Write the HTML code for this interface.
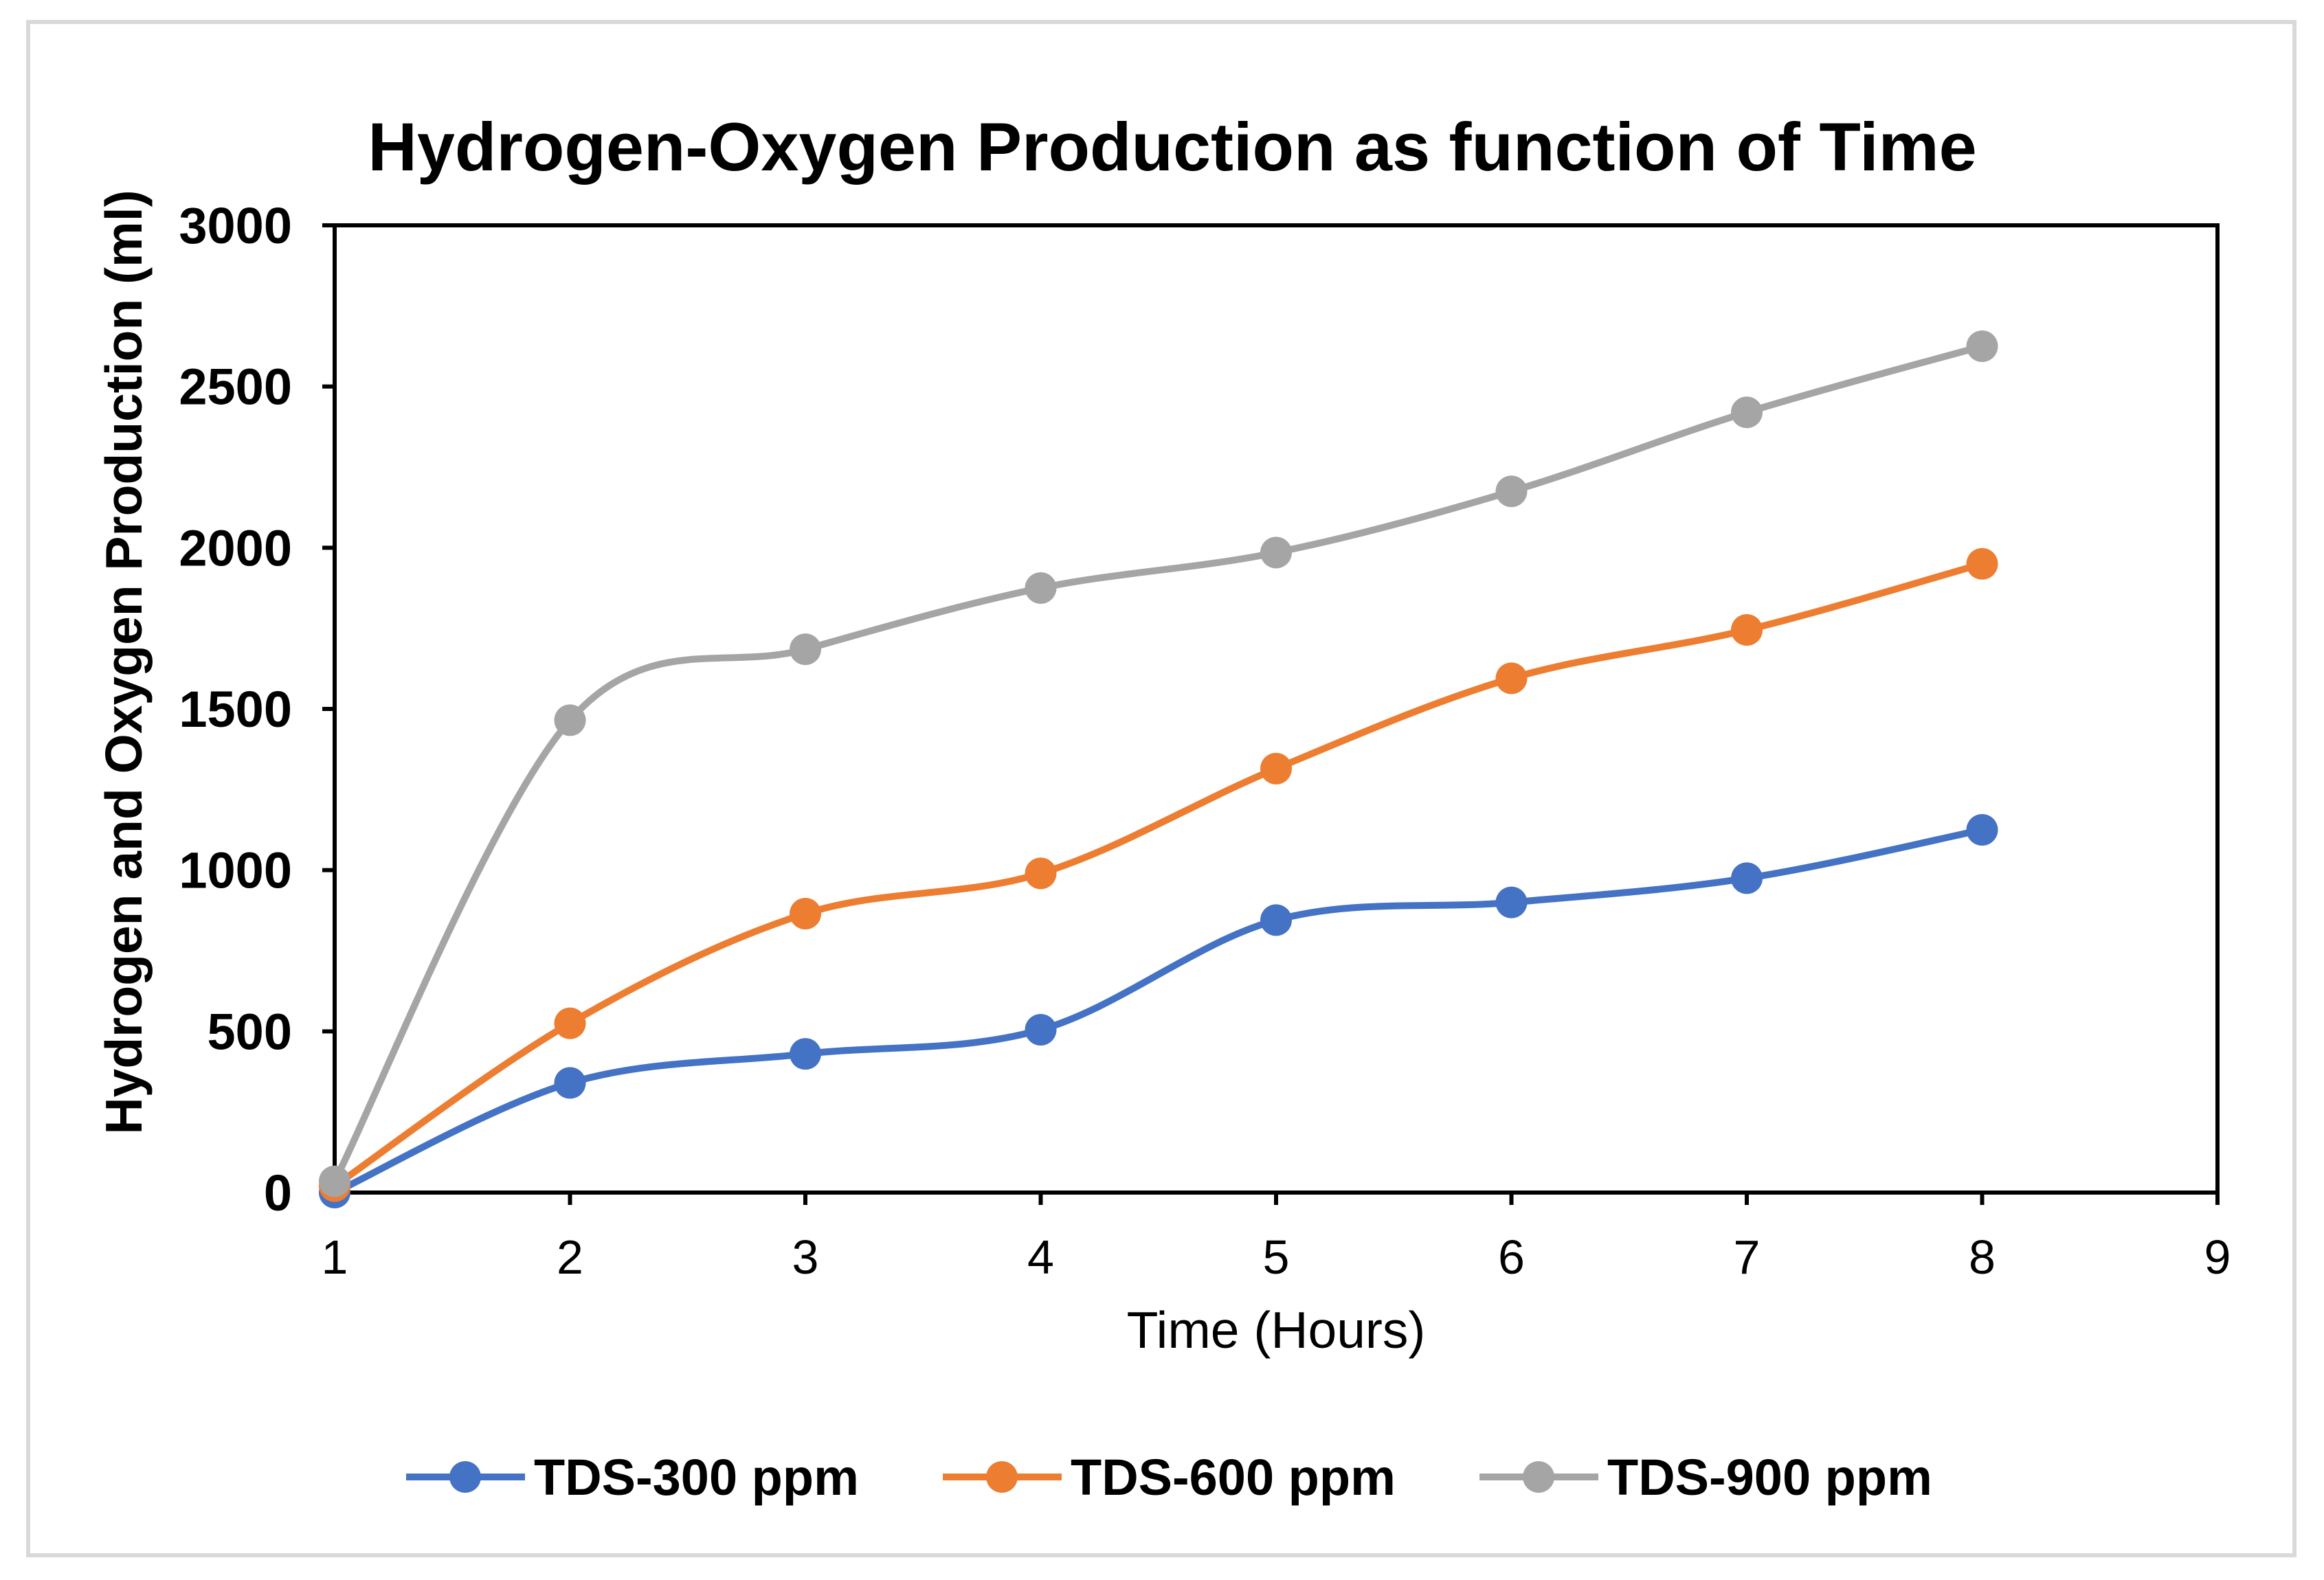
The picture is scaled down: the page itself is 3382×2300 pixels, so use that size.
<!DOCTYPE html>
<html><head><meta charset="utf-8"><style>html,body{margin:0;padding:0;background:#fff}svg{display:block}</style></head>
<body>
<svg id="chart" width="3382" height="2300" viewBox="0 0 3382 2300" xmlns="http://www.w3.org/2000/svg" font-family="'Liberation Sans', Arial, sans-serif">
<rect x="41" y="32" width="3298" height="2232" fill="#fff" stroke="#d9d9d9" stroke-width="6"/>
<text x="1706" y="248" text-anchor="middle" font-size="99" font-weight="bold">Hydrogen-Oxygen Production as function of Time</text>
<g id="axes"></g>
<g id="series"></g>
<text x="1857" y="1962" text-anchor="middle" font-size="75">Time (Hours)</text>
<text transform="translate(206,964) rotate(-90)" text-anchor="middle" font-size="75" font-weight="bold">Hydrogen and Oxygen Production (ml)</text>
<g id="legend"></g>
</svg>
<script>
const hours = [1,2,3,4,5,6,7,8];
const tds300 = [0,340,430,505,845,900,975,1125];
const tds600 = [20,525,865,990,1315,1595,1745,1950];
const tds900 = [35,1465,1685,1875,1985,2175,2420,2625];
const seriesNames = ['TDS-300 ppm','TDS-600 ppm','TDS-900 ppm'];
const seriesColors = ['#4472c4','#ed7d31','#a5a5a5'];
const xTicks = [1,2,3,4,5,6,7,8,9];
const yTicks = [0,500,1000,1500,2000,2500,3000];

const NS='http://www.w3.org/2000/svg';
const L=487,R=3227,T=328,B=1736;
const xs=v=>L+(v-1)/(9-1)*(R-L);
const ys=v=>B-v/3000*(B-T);
function mk(tag,attrs,parent){const e=document.createElementNS(NS,tag);for(const k in attrs)e.setAttribute(k,attrs[k]);parent.appendChild(e);return e;}
const axes=document.getElementById('axes');
const box=mk('rect',{x:L,y:T,width:R-L,height:B-T,fill:'none',stroke:'#000','stroke-width':6},axes);


yTicks.forEach(v=>{
  const t=mk('line',{x1:L-18,x2:L,y1:ys(v),y2:ys(v),stroke:'#000','stroke-width':6},axes);
  
  
  const tx=mk('text',{x:L-62,y:ys(v)+26,'text-anchor':'end','font-size':74,'font-weight':'bold'},axes);
  tx.textContent=v;
  
  
});
xTicks.forEach(v=>{
  const t=mk('line',{x1:xs(v),x2:xs(v),y1:B,y2:B+18,stroke:'#000','stroke-width':6},axes);
  
  
  const tx=mk('text',{x:xs(v),y:B+118,'text-anchor':'middle','font-size':70},axes);
  tx.textContent=v;
  
  
});
function smooth(p){
  let d='M'+p[0][0]+','+p[0][1];
  for(let i=0;i<p.length-1;i++){
    const p0=p[i-1]||p[i],p1=p[i],p2=p[i+1],p3=p[i+2]||p2;
    const k=1/6;
    d+=' C'+(p1[0]+(p2[0]-p0[0])*k)+','+(p1[1]+(p2[1]-p0[1])*k)+' '+(p2[0]-(p3[0]-p1[0])*k)+','+(p2[1]-(p3[1]-p1[1])*k)+' '+p2[0]+','+p2[1];
  }
  return d;
}
const sg=document.getElementById('series');
[tds300,tds600,tds900].forEach((vals,si)=>{
  const pts=vals.map((v,i)=>[xs(hours[i]),ys(v)]);
  const path=mk('path',{d:smooth(pts),fill:'none',stroke:seriesColors[si],'stroke-width':10},sg);
  
  
  pts.forEach(p=>{
    const c=mk('circle',{cx:p[0],cy:p[1],r:23,fill:seriesColors[si]},sg);
    
    
  });
});
const lg=document.getElementById('legend');
const lx=[591,1372,2153];
seriesNames.forEach((n,i)=>{
  const ln=mk('line',{x1:lx[i],x2:lx[i]+173,y1:2150,y2:2150,stroke:seriesColors[i],'stroke-width':10},lg);
  
  
  const c=mk('circle',{cx:lx[i]+86,cy:2150,r:23,fill:seriesColors[i]},lg);
  
  
  const t=mk('text',{x:lx[i]+186,y:2176,'font-size':74,'font-weight':'bold'},lg);
  t.textContent=n;
  
  
});
</script>
</body></html>
